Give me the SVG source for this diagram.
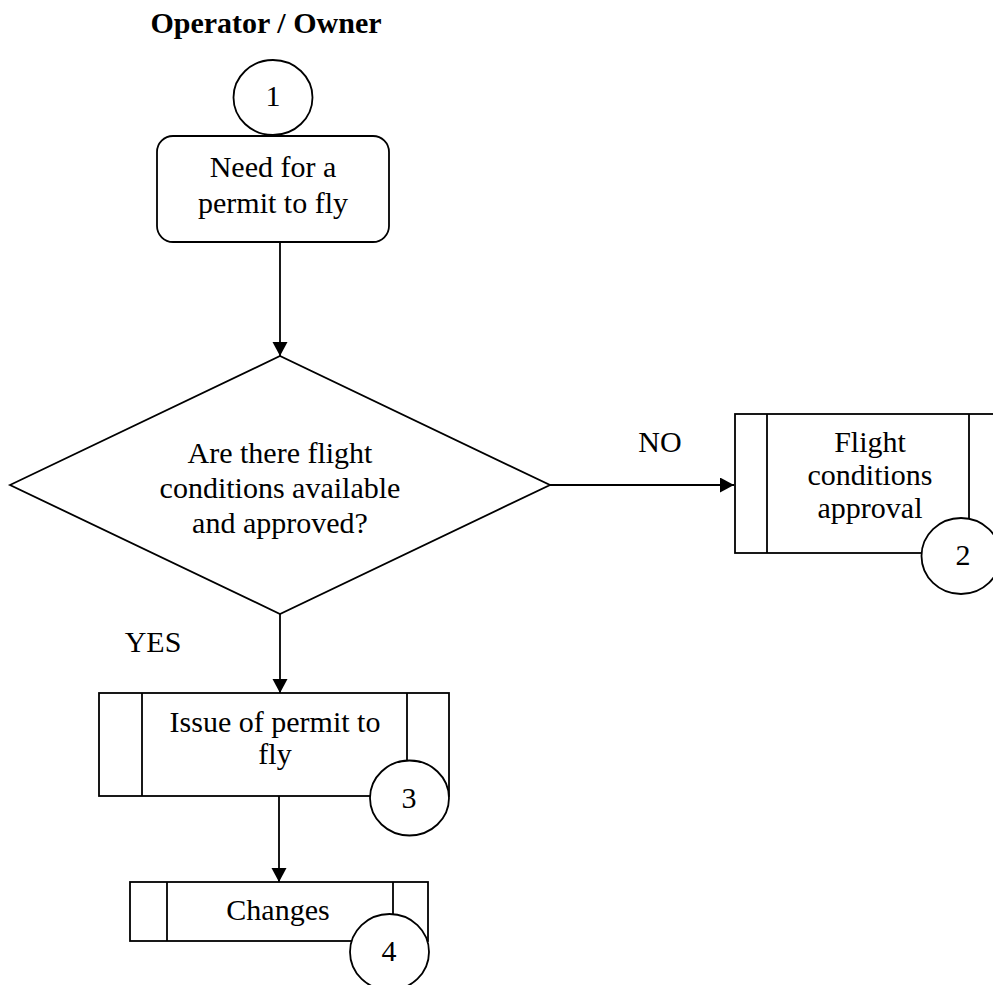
<svg xmlns="http://www.w3.org/2000/svg" width="993" height="985" viewBox="0 0 993 985">
<defs>
<style>
.s{fill:#fff;stroke:#000;stroke-width:1.8}
.l{fill:none;stroke:#000;stroke-width:1.8}
.t{font-family:"Liberation Serif","Times New Roman",serif;font-size:30px;fill:#000;text-anchor:middle}
.b{font-weight:bold}
</style>
<marker id="arr" markerUnits="userSpaceOnUse" markerWidth="15" markerHeight="16" refX="14" refY="7.5" orient="auto">
<path d="M0,0 L14,7.5 L0,15 z" fill="#000"/>
</marker>
</defs>
<rect width="993" height="985" fill="#fff"/>
<text class="t b" x="266" y="33">Operator / Owner</text>
<g id="connectors">
<line class="l" x1="280" y1="242" x2="280" y2="356" marker-end="url(#arr)"/>
<line class="l" x1="550" y1="485" x2="734" y2="485" marker-end="url(#arr)"/>
<line class="l" x1="280" y1="614" x2="280" y2="693" marker-end="url(#arr)"/>
<line class="l" x1="279" y1="796" x2="279" y2="882" marker-end="url(#arr)"/>
</g>
<g id="start">
<rect class="s" x="157" y="136" width="232" height="106" rx="16"/>
<text class="t" x="273" y="177">Need for a</text>
<text class="t" x="273" y="213">permit to fly</text>
<ellipse class="s" cx="273" cy="97.5" rx="39.5" ry="37.5"/>
<text class="t" x="273" y="106">1</text>
</g>
<g id="decision">
<polygon class="s" points="10,485 280,356 550,485 280,614"/>
<text class="t" x="280" y="463">Are there flight</text>
<text class="t" x="280" y="498">conditions available</text>
<text class="t" x="280" y="533">and approved?</text>
</g>
<text class="t" x="660" y="452">NO</text>
<text class="t" x="153" y="652">YES</text>
<g id="approval">
<rect class="s" x="735" y="414" width="265" height="139"/>
<line class="l" x1="767" y1="414" x2="767" y2="553"/>
<line class="l" x1="969" y1="414" x2="969" y2="553"/>
<text class="t" x="870" y="452">Flight</text>
<text class="t" x="870" y="485">conditions</text>
<text class="t" x="870" y="518">approval</text>
<ellipse class="s" cx="961" cy="556" rx="39.5" ry="38"/>
<text class="t" x="963" y="565">2</text>
</g>
<g id="issue">
<rect class="s" x="99" y="693" width="350" height="103"/>
<line class="l" x1="142" y1="693" x2="142" y2="796"/>
<line class="l" x1="407" y1="693" x2="407" y2="796"/>
<text class="t" x="275" y="732">Issue of permit to</text>
<text class="t" x="275" y="764">fly</text>
<ellipse class="s" cx="409.5" cy="798" rx="39.5" ry="37.5"/>
<text class="t" x="409" y="808">3</text>
</g>
<g id="changes">
<rect class="s" x="130" y="882" width="298" height="59"/>
<line class="l" x1="167" y1="882" x2="167" y2="941"/>
<line class="l" x1="393" y1="882" x2="393" y2="941"/>
<text class="t" x="278" y="920">Changes</text>
<ellipse class="s" cx="389.5" cy="952" rx="39.5" ry="38"/>
<text class="t" x="389" y="961">4</text>
</g>
</svg>
